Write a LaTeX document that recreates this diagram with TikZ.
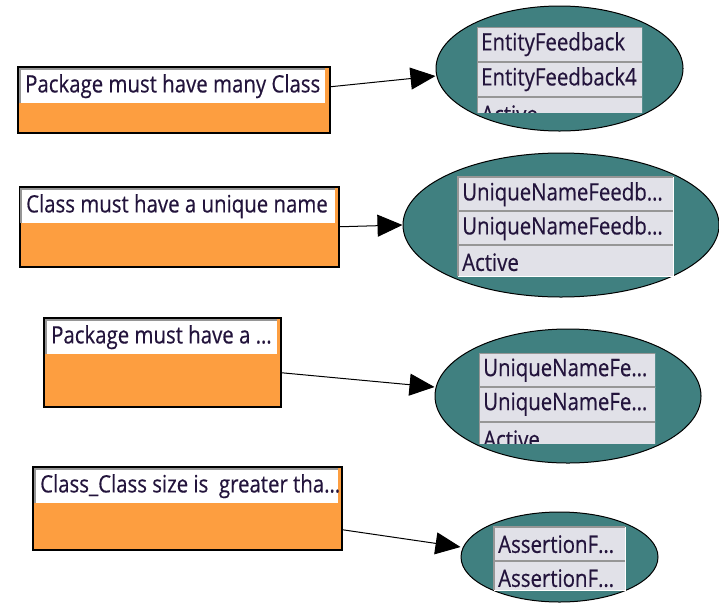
\documentclass[tikz,border=0pt]{standalone}
\usepackage{fontspec}
\setmainfont{Open Sans}[FakeStretch=0.85,FakeBold=0.4]
\usetikzlibrary{arrows.meta,shapes.geometric}
\definecolor{boxorange}{RGB}{253,158,64}
\definecolor{ellteal}{RGB}{64,128,128}
\definecolor{rowgray}{RGB}{225,225,232}
\definecolor{txtdark}{RGB}{35,20,60}
\definecolor{bevel}{RGB}{150,150,150}
\tikzset{
 rulebox/.style={draw=black, line width=1.5pt, fill=boxorange, inner sep=0pt, anchor=north west},
 field/.style={fill=white, inner sep=0pt, anchor=north west, minimum height=34pt},
 fieldtext/.style={anchor=west, inner sep=0pt, text=txtdark, font=\fontsize{24}{24}\selectfont},
 oval/.style={ellipse, draw=black, line width=1pt, fill=ellteal, inner sep=0pt},
 rowbox/.style={fill=rowgray, inner sep=0pt, anchor=north west},
 rowtext/.style={anchor=west, inner sep=0pt, text=txtdark, font=\fontsize{24}{24}\selectfont},
 conn/.style={draw=black, line width=1pt, -{Triangle[length=25pt,width=22pt]}},
}
\newcommand\lrow[6]{%
 \node[rowbox, minimum width=#4, minimum height=#5] (#1) at (#2,#3) {};
 \draw[white, line width=1pt] (#1.south west) -- (#1.south east) -- (#1.north east);
 \draw[bevel, line width=1.5pt] (#1.south west) -- (#1.north west) -- (#1.north east);
 \node[rowtext] (#1t) at ([xshift=4pt,yshift=#5/2-17pt]#1.west) {#6};}
\begin{document}
\begin{tikzpicture}[x=1pt,y=-1pt]
\useasboundingbox (0,0) rectangle (719,603);
% boxes
\node[rulebox, minimum width=312pt, minimum height=66pt] (b1) at (17,66) {};
\node[field, minimum width=305pt] (f1) at (20,69) {};
\node[rulebox, minimum width=319pt, minimum height=80pt] (b2) at (19,186) {};
\node[field, minimum width=314pt] (f2) at (21,189) {};
\node[rulebox, minimum width=237pt, minimum height=89pt] (b3) at (43,317) {};
\node[field, minimum width=231pt] (f3) at (46,320) {};
\node[rulebox, minimum width=309pt, minimum height=83pt] (b4) at (32,466) {};
\node[field, minimum width=303pt] (f4) at (35,469) {};
\foreach \f in {f1,f2,f3,f4}{
 \draw[bevel, line width=2pt] (\f.south west) -- (\f.north west) -- (\f.north east);}
\node[fieldtext] (t1) at ([xshift=5pt]f1.west) {Package must have many Class};
\node[fieldtext] (t2) at ([xshift=5pt]f2.west) {Class must have a unique name};
\node[fieldtext] (t3) at ([xshift=5pt]f3.west) {Package must have a …};
\node[fieldtext] (t4) at ([xshift=5pt]f4.west) {Class\_Class size is\ \ greater tha…};
% ellipses
\node[oval, minimum width=247pt, minimum height=125pt] (e1) at (559.5,68.5) {};
\node[oval, minimum width=316pt, minimum height=144pt] (e2) at (561,225) {};
\node[oval, minimum width=266pt, minimum height=134pt] (e3) at (568,396) {};
\node[oval, minimum width=197pt, minimum height=90pt] (e4) at (559.5,557) {};
% lists
\begin{scope}
\clip (477,27) rectangle (642,112);
\lrow{r1a}{477}{27}{165pt}{34pt}{EntityFeedback}
\lrow{r1b}{477}{62}{165pt}{34pt}{EntityFeedback4}
\lrow{r1c}{477}{97}{165pt}{34pt}{Active}
\end{scope}
\lrow{r2a}{458}{177}{215pt}{34pt}{UniqueNameFeedb…}
\lrow{r2b}{458}{211}{215pt}{34pt}{UniqueNameFeedb…}
\lrow{r2c}{458}{245}{215pt}{31pt}{Active}
\begin{scope}
\clip (479,353) rectangle (655,443);
\lrow{r3a}{479}{353}{176pt}{34pt}{UniqueNameFe…}
\lrow{r3b}{479}{387}{176pt}{34pt}{UniqueNameFe…}
\lrow{r3c}{479}{422}{176pt}{34pt}{Active}
\end{scope}
\lrow{r4a}{494}{527}{131pt}{34pt}{AssertionF…}
\lrow{r4b}{494}{561}{131pt}{29pt}{AssertionF…}
% connectors
\draw[conn] ([yshift=13pt]b1.east) -- ([yshift=-7.5pt]e1.west);
\draw[conn] (b2.east) -- (e2.west);
\draw[conn] ([yshift=-10.5pt]b3.east) -- ([yshift=9pt]e3.west);
\draw[conn] ([yshift=-21.5pt]b4.east) -- ([yshift=10pt]e4.west);
\end{tikzpicture}
\end{document}
